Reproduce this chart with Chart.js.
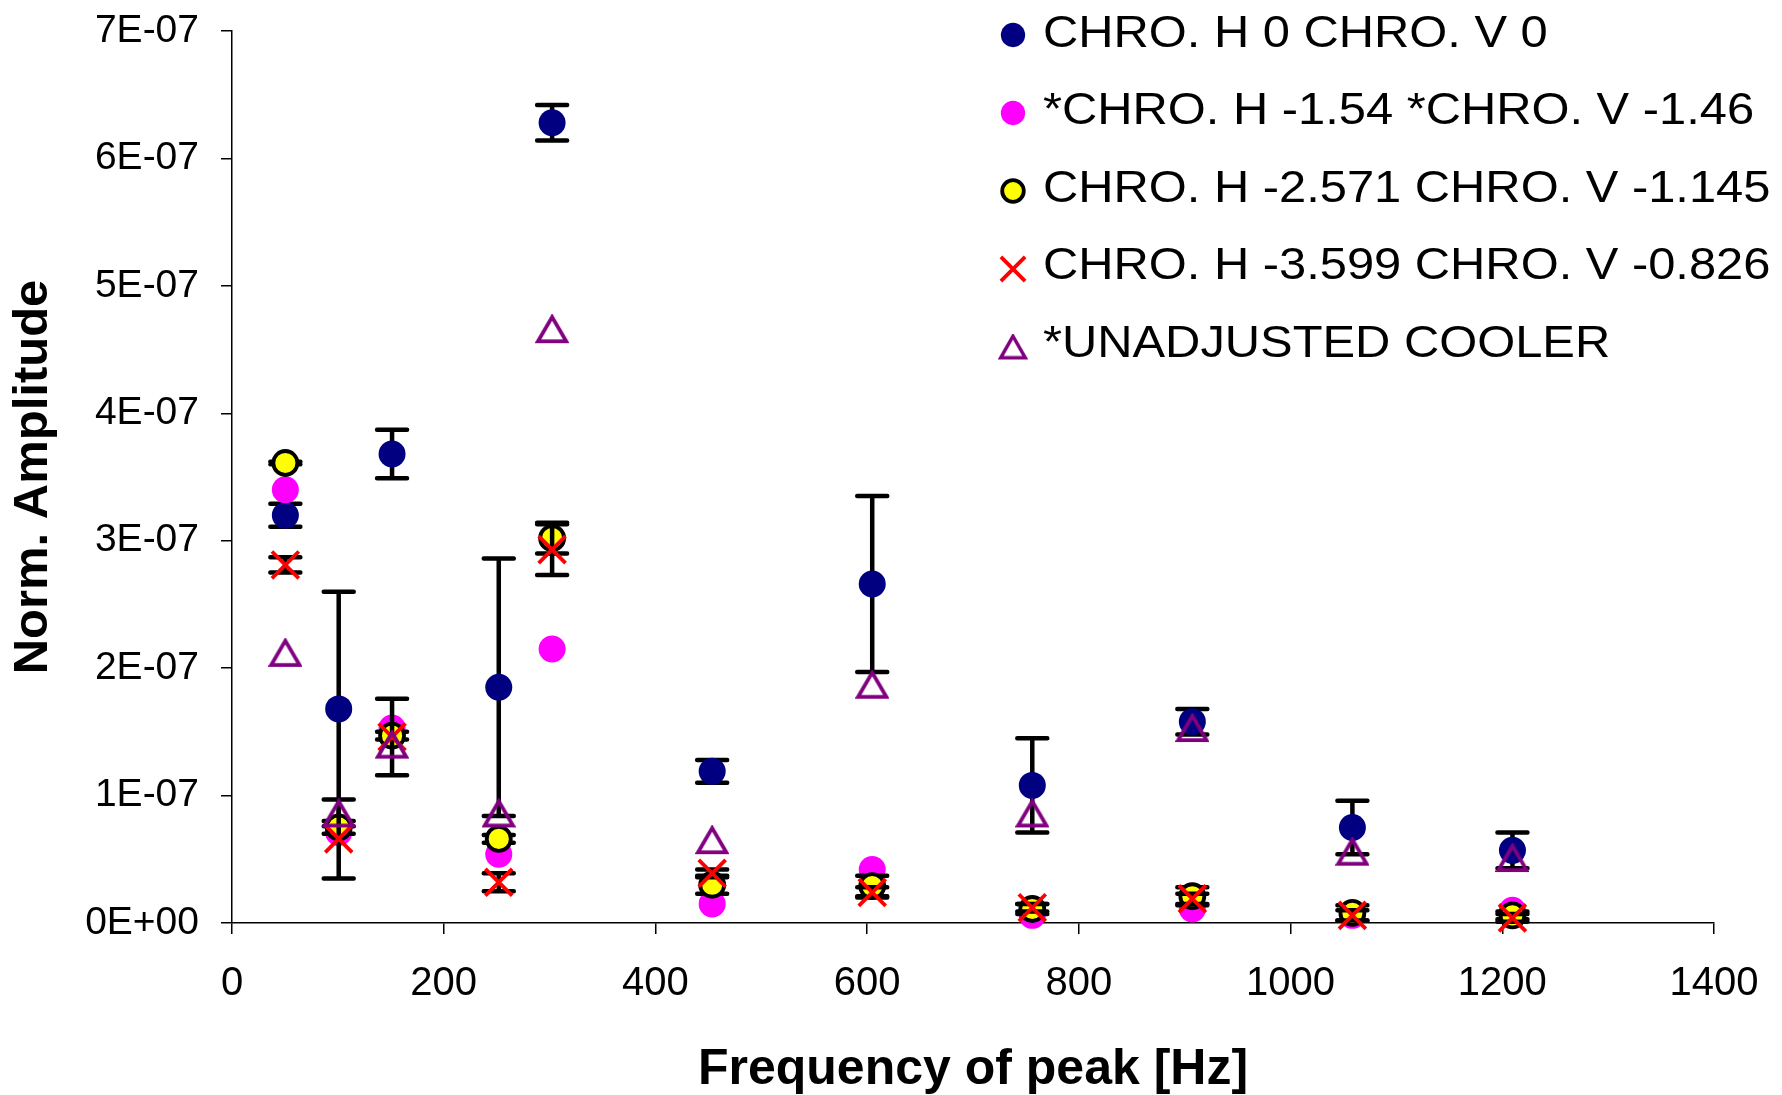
<!DOCTYPE html>
<html>
<head>
<meta charset="utf-8">
<script src="https://cdn.jsdelivr.net/npm/chart.js@4.4.0/dist/chart.umd.min.js"></script>
<style>
  html, body { margin: 0; padding: 0; background: #fff; }
  #box { width: 1782px; height: 1095px; }
</style>
</head>
<body>
<div id="box"><canvas id="peakChart" width="1782" height="1095"></canvas></div>
<script>
// frequency of each peak [Hz]
const freqs = [50.4, 100.8, 151.2, 252, 302.4, 453.6, 604.8, 756, 907.2, 1058.4, 1209.6];

// normalised amplitudes per chromaticity setting
const chro0     = [3.20e-7, 1.68e-7, 3.68e-7, 1.85e-7, 6.28e-7, 1.19e-7, 2.66e-7, 1.08e-7, 1.58e-7, 0.75e-7, 0.57e-7];
const chro0Err  = [0.09e-7, 0.92e-7, 0.19e-7, 1.01e-7, 0.14e-7, 0.09e-7, 0.69e-7, 0.37e-7, 0.10e-7, 0.21e-7, 0.14e-7];

const chro154   = [3.40e-7, 0.71e-7, 1.53e-7, 0.54e-7, 2.15e-7, 0.15e-7, 0.42e-7, 0.06e-7, 0.11e-7, 0.06e-7, 0.10e-7];

const chro2571    = [3.61e-7, 0.75e-7, 1.47e-7, 0.66e-7, 3.02e-7, 0.30e-7, 0.29e-7, 0.11e-7, 0.21e-7, 0.08e-7, 0.06e-7];
const chro2571Err = [0.01e-7, 0.05e-7, 0.03e-7, 0.03e-7, 0.12e-7, 0.07e-7, 0.08e-7, 0.04e-7, 0.07e-7, 0.06e-7, 0.03e-7];

const chro3599    = [2.81e-7, 0.66e-7, 1.46e-7, 0.32e-7, 2.93e-7, 0.39e-7, 0.24e-7, 0.12e-7, 0.19e-7, 0.06e-7, 0.04e-7];
const chro3599Err = [0.06e-7, 0.31e-7, 0.30e-7, 0.07e-7, 0.20e-7, 0.03e-7, 0.04e-7, 0.03e-7, 0.04e-7, 0.04e-7, 0.03e-7];

const unadjusted = [2.12e-7, 0.86e-7, 1.40e-7, 0.86e-7, 4.66e-7, 0.65e-7, 1.87e-7, 0.86e-7, 1.53e-7, 0.56e-7, 0.51e-7];

const seriesLabels = [
    "CHRO. H 0 CHRO. V 0",
    "*CHRO. H -1.54 *CHRO. V -1.46",
    "CHRO. H -2.571 CHRO. V -1.145",
    "CHRO. H -3.599 CHRO. V -0.826",
    "*UNADJUSTED COOLER"
];

const FONT = "'Liberation Sans', Arial, sans-serif";

function points(values) {
    return freqs.map(function(f, i) {
        return { x: f, y: values[i] };
    });
}

// 7E-07 style labels
function sciLabel(v) {
    let parts = Number(v).toExponential(0).split("e");
    let exp = parseInt(parts[1], 10);
    let sign = exp < 0 ? "-" : "+";
    return parts[0] + "E" + sign + String(Math.abs(exp)).padStart(2, "0");
}

// hollow triangle marker, centred on its bounding box
function triangleMarker(w, h, color, lw) {
    let c = document.createElement("canvas");
    c.width = w;
    c.height = h;
    let g = c.getContext("2d");
    let m = lw / 2 + 1;
    g.strokeStyle = color;
    g.lineWidth = lw;
    g.lineJoin = "miter";
    g.beginPath();
    g.moveTo(w / 2, m);
    g.lineTo(w - m, h - m);
    g.lineTo(m, h - m);
    g.closePath();
    g.stroke();
    return c;
}

const triPlot = triangleMarker(34, 30, "#800080", 3.8);
const triLegend = triangleMarker(30, 27, "#800080", 3.5);

// vertical error bars, drawn just before the dataset's own markers
const errorBars = {
    id: "errorBars",
    beforeDatasetDraw(chart, args) {
        let ds = chart.data.datasets[args.index];
        if (!ds.errors) return;
        let ctx = chart.ctx;
        let xs = chart.scales.x, ys = chart.scales.y;
        ctx.save();
        ctx.strokeStyle = "#000";
        ctx.lineWidth = 4.5;
        ctx.lineCap = "round";
        ds.data.forEach(function(p, i) {
            let e = ds.errors[i];
            let px = xs.getPixelForValue(p.x);
            let top = ys.getPixelForValue(p.y + e);
            let bot = ys.getPixelForValue(p.y - e);
            ctx.beginPath();
            ctx.moveTo(px, top);
            ctx.lineTo(px, bot);
            ctx.moveTo(px - 15, top);
            ctx.lineTo(px + 15, top);
            ctx.moveTo(px - 15, bot);
            ctx.lineTo(px + 15, bot);
            ctx.stroke();
        });
        ctx.restore();
    }
};

// legend sitting inside the top right of the plot
const cornerLegend = {
    id: "cornerLegend",
    afterDraw(chart) {
        let ctx = chart.ctx;
        chart.data.datasets.forEach(function(ds, i) {
            let my = 35 + i * 78;
            let ty = 46.5 + i * 77.6;
            ctx.save();
            if (ds.legendMarker) {
                ctx.drawImage(ds.legendMarker, 1013 - ds.legendMarker.width / 2, my - ds.legendMarker.height / 2);
            } else {
                ctx.fillStyle = ds.pointBackgroundColor;
                ctx.strokeStyle = ds.pointBorderColor;
                ctx.lineWidth = ds.pointBorderWidth;
                Chart.helpers.drawPoint(ctx, {
                    pointStyle: ds.pointStyle,
                    radius: ds.pointRadius * 0.9,
                    rotation: 0,
                    borderWidth: ds.pointBorderWidth
                }, 1013, my);
            }
            ctx.restore();

            ctx.save();
            ctx.translate(1043, ty);
            ctx.scale(1.11, 1);
            ctx.font = "44px " + FONT;
            ctx.fillStyle = "#000";
            ctx.textBaseline = "alphabetic";
            ctx.fillText(ds.label, 0, 0);
            ctx.restore();
        });
    }
};

const axisCommon = {
    grid: { drawOnChartArea: false, drawTicks: true, tickLength: 11, color: "#000", lineWidth: 1.5 },
    border: { display: true, color: "#000", width: 1.5 }
};

new Chart(document.getElementById("peakChart"), {
    type: "scatter",
    data: {
        datasets: [
            {
                label: seriesLabels[0],
                data: points(chro0),
                errors: chro0Err,
                pointStyle: "circle",
                pointRadius: 13.5,
                pointBackgroundColor: "#000080",
                pointBorderColor: "#000080",
                pointBorderWidth: 0,
                order: 5
            },
            {
                label: seriesLabels[1],
                data: points(chro154),
                pointStyle: "circle",
                pointRadius: 13.5,
                pointBackgroundColor: "#FF00FF",
                pointBorderColor: "#FF00FF",
                pointBorderWidth: 0,
                order: 4
            },
            {
                label: seriesLabels[2],
                data: points(chro2571),
                errors: chro2571Err,
                pointStyle: "circle",
                pointRadius: 12,
                pointBackgroundColor: "#FFFF00",
                pointBorderColor: "#000",
                pointBorderWidth: 3.8,
                order: 3
            },
            {
                label: seriesLabels[3],
                data: points(chro3599),
                errors: chro3599Err,
                pointStyle: "crossRot",
                pointRadius: 19,
                pointBackgroundColor: "#FF0000",
                pointBorderColor: "#FF0000",
                pointBorderWidth: 3.8,
                order: 2
            },
            {
                label: seriesLabels[4],
                data: points(unadjusted),
                pointStyle: triPlot,
                legendMarker: triLegend,
                pointRadius: 15.5,
                pointBackgroundColor: "rgba(0,0,0,0)",
                pointBorderColor: "#800080",
                pointBorderWidth: 3.8,
                order: 1
            }
        ]
    },
    options: {
        responsive: false,
        devicePixelRatio: 1,
        animation: false,
        clip: false,
        layout: { padding: { top: 31, right: 68, left: 0, bottom: 0 } },
        plugins: {
            legend: { display: false },
            tooltip: { enabled: false }
        },
        scales: {
            x: Object.assign({}, axisCommon, {
                type: "linear",
                position: "bottom",
                min: 0,
                max: 1400,
                ticks: {
                    stepSize: 200,
                    maxRotation: 0,
                    color: "#000",
                    padding: 26,
                    font: { family: FONT, size: 40 },
                    callback: function(v) { return String(v); }
                },
                title: {
                    display: true,
                    text: "Frequency of peak [Hz]",
                    color: "#000",
                    padding: 0,
                    font: { family: FONT, size: 50, weight: "bold", lineHeight: 1.0 }
                },
                afterFit(scale) {
                    scale.height = 172;
                    scale.paddingLeft = 0;
                    scale.paddingRight = 0;
                }
            }),
            y: Object.assign({}, axisCommon, {
                type: "linear",
                position: "left",
                min: 0,
                max: 7e-7,
                ticks: {
                    stepSize: 1e-7,
                    color: "#000",
                    padding: 22,
                    font: { family: FONT, size: 39 },
                    callback: function(v) { return sciLabel(v); }
                },
                title: {
                    display: true,
                    text: "Norm. Amplitude",
                    color: "#000",
                    padding: { top: 4, bottom: 0 },
                    font: { family: FONT, size: 49, weight: "bold" }
                },
                afterFit(scale) {
                    scale.width = 232;
                    scale.paddingTop = 0;
                    scale.paddingBottom = 0;
                }
            })
        }
    },
    plugins: [errorBars, cornerLegend]
});
</script>
</body>
</html>
